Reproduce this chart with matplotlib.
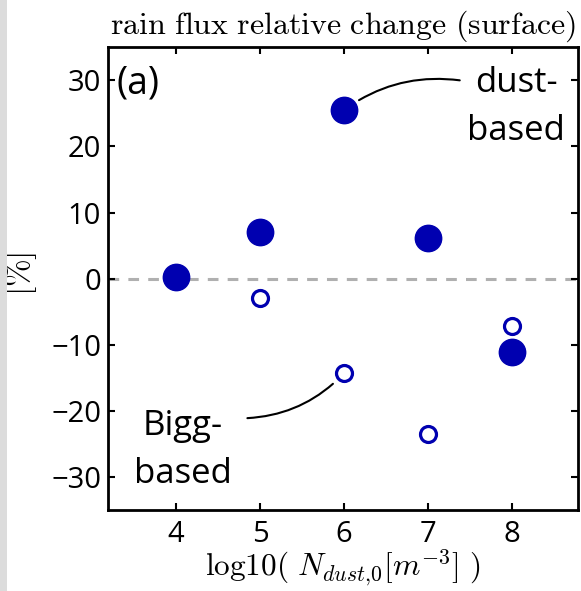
import matplotlib
matplotlib.use("Agg")
import matplotlib.pyplot as plt
from matplotlib.patches import Rectangle

plt.rcParams["mathtext.fontset"] = "cm"
plt.rcParams["font.family"] = ["Open Sans", "DejaVu Sans"]

# log10 of initial dust number concentration
log_ndust = [4, 5, 6, 7, 8]
# relative change of surface rain flux [%]
dust_based = [0.3, 7.0, 25.5, 6.2, -11.1]
bigg_x = [5, 6, 7, 8]
bigg_based = [-2.9, -14.3, -23.5, -7.2]

xticks = [4, 5, 6, 7, 8]
yticks = [-30, -20, -10, 0, 10, 20, 30]

blue = "#0000b0"

fig = plt.figure(figsize=(5.81, 5.91), dpi=100)
fig.patches.append(Rectangle((0, 0), 7 / 581, 1, transform=fig.transFigure,
                             facecolor="#dcdcdc", edgecolor="none", zorder=0))
ax = fig.add_axes([0.186, 0.137, 0.809, 0.783])

ax.axhline(0, color="#b0b0b0", lw=2.2, ls=(0, (3.5, 3)), zorder=1)
ax.plot(log_ndust, dust_based, "o", ms=19, color=blue, mec=blue, zorder=3)
ax.plot(bigg_x, bigg_based, "o", ms=11.5, mfc="white", mec=blue, mew=2.3, zorder=3)

ax.set_xlim(3.19, 8.79)
ax.set_ylim(-35, 35)
ax.set_xticks(xticks)
ax.set_yticks(yticks)
ax.tick_params(direction="in", top=True, right=True, length=5, width=1.5,
               labelsize=21)
ax.tick_params(axis="x", pad=7)
ax.tick_params(axis="y", pad=5)
for s in ax.spines.values():
    s.set_linewidth(2)

ax.set_title(r"$\mathrm{rain\ flux\ relative\ change\ (surface)}$", fontsize=23, pad=10)
ax.set_xlabel(r"$\mathrm{log10(}\ N_{dust{,}0}[m^{-3}]\ \mathrm{)}$", fontsize=22.5, labelpad=-1)
ax.set_ylabel(r"$[\%]$", fontsize=24)
ax.yaxis.set_label_coords(-0.147, 0.51)

ax.text(0.018, 0.922, "(a)", transform=ax.transAxes, fontsize=27, va="center", ha="left")

ax.text(8.05, 26.0, "dust-\nbased", fontsize=25, ha="center", va="center", linespacing=1.55)
ax.text(4.08, -25.9, "Bigg-\nbased", fontsize=25, ha="center", va="center", linespacing=1.55)

ax.annotate("", xy=(6, 25.5), xytext=(7.38, 30.0),
            arrowprops=dict(arrowstyle="-", color="black", lw=1.5, shrinkA=0, shrinkB=13,
                            connectionstyle="arc3,rad=0.2"))
ax.annotate("", xy=(6, -14.3), xytext=(4.85, -21.1),
            arrowprops=dict(arrowstyle="-", color="black", lw=1.5, shrinkA=0, shrinkB=11,
                            connectionstyle="arc3,rad=0.2"))

fig.savefig("out.png", dpi=100)
